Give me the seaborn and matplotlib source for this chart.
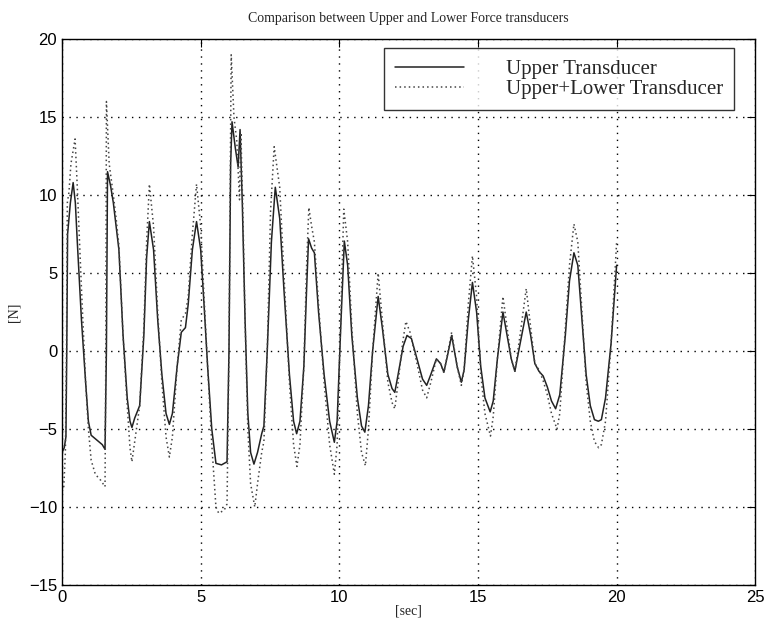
import pandas as pd
import matplotlib
matplotlib.use("Agg")
import matplotlib.pyplot as plt
import seaborn as sns

# Values (time in s, force in N)
upper_t = [0.00, 0.08, 0.14, 0.17, 0.20, 0.30, 0.40, 0.48, 0.55, 0.70, 0.85, 0.95, 1.05, 1.25, 1.45, 1.55,
           1.60, 1.64, 1.75, 1.85, 1.95, 2.05, 2.20, 2.35, 2.45, 2.52, 2.62, 2.80, 2.95, 3.05, 3.15, 3.30,
           3.45, 3.60, 3.75, 3.87, 3.98, 4.15, 4.30, 4.45, 4.55, 4.70, 4.85, 5.00, 5.12, 5.25, 5.40, 5.55,
           5.75, 5.95, 6.02, 6.08, 6.13, 6.25, 6.35, 6.42, 6.50, 6.60, 6.70, 6.80, 6.92, 7.05, 7.20, 7.28,
           7.40, 7.55, 7.69, 7.85, 8.00, 8.20, 8.35, 8.46, 8.58, 8.72, 8.82, 8.89, 9.00, 9.10, 9.25, 9.45,
           9.65, 9.82, 9.92, 10.05, 10.18, 10.30, 10.45, 10.65, 10.80, 10.92, 11.05, 11.20, 11.40, 11.55,
           11.75, 11.90, 12.00, 12.12, 12.30, 12.44, 12.60, 12.80, 13.00, 13.15, 13.30, 13.50, 13.65, 13.77,
           13.90, 14.05, 14.25, 14.40, 14.50, 14.65, 14.80, 14.95, 15.10, 15.25, 15.44, 15.55, 15.70, 15.90,
           16.05, 16.20, 16.33, 16.50, 16.74, 16.90, 17.05, 17.20, 17.35, 17.50, 17.65, 17.80, 17.95, 18.15,
           18.30, 18.46, 18.60, 18.75, 18.90, 19.05, 19.20, 19.34, 19.45, 19.60, 19.80, 20.00]
upper_f = [-6.5, -6.2, -5.5, 0.0, 7.5, 9.5, 10.8, 9.5, 7.0, 2.0, -2.0, -4.5, -5.4, -5.7, -6.0, -6.3,
           0.0, 11.5, 10.6, 9.5, 8.0, 6.5, 1.0, -3.0, -4.5, -4.9, -4.3, -3.5, 1.0, 6.0, 8.3, 6.5,
           2.0, -1.5, -4.0, -4.7, -4.0, -1.0, 1.2, 1.5, 3.0, 6.5, 8.3, 6.5, 3.0, -1.0, -5.0, -7.2,
           -7.3, -7.1, 0.0, 12.0, 14.7, 13.0, 11.8, 14.2, 9.5, 2.0, -4.0, -6.5, -7.25, -6.5, -5.3, -4.8,
           0.0, 7.0, 10.5, 8.5, 4.0, -1.5, -4.5, -5.3, -4.5, -1.0, 4.0, 7.2, 6.6, 6.3, 2.5, -1.5,
           -4.5, -5.85, -4.5, 1.5, 7.05, 5.5, 1.0, -3.0, -4.8, -5.2, -3.5, 0.0, 3.5, 1.5,
           -1.5, -2.4, -2.65, -1.5, 0.3, 1.0, 0.8, -0.5, -1.8, -2.2, -1.5, -0.5, -0.8, -1.35,
           -0.3, 1.0, -1.0, -2.0, -1.2, 2.0, 4.4, 2.5, -1.0, -3.0, -3.9, -3.2, -0.5, 2.5,
           1.0, -0.5, -1.3, 0.3, 2.5, 1.0, -0.8, -1.3, -1.6, -2.3, -3.2, -3.7, -2.8, 1.0,
           4.5, 6.3, 5.5, 2.0, -1.5, -3.5, -4.4, -4.5, -4.4, -3.0, 0.5, 5.5]

both_t = [0.00, 0.06, 0.12, 0.16, 0.19, 0.25, 0.32, 0.47, 0.55, 0.70, 0.85, 0.95, 1.05, 1.20, 1.40, 1.55,
          1.58, 1.60, 1.70, 1.85, 1.95, 2.05, 2.20, 2.35, 2.45, 2.52, 2.62, 2.80, 2.95, 3.05, 3.15, 3.30,
          3.45, 3.60, 3.75, 3.87, 3.98, 4.15, 4.30, 4.45, 4.55, 4.70, 4.85, 5.00, 5.12, 5.25, 5.40, 5.55,
          5.65, 5.85, 5.95, 6.02, 6.10, 6.20, 6.30, 6.40, 6.45, 6.52, 6.60, 6.70, 6.80, 6.95, 7.05, 7.20,
          7.28, 7.40, 7.52, 7.65, 7.85, 8.00, 8.20, 8.35, 8.47, 8.58, 8.72, 8.82, 8.90, 9.00, 9.10, 9.25,
          9.45, 9.65, 9.82, 9.92, 10.05, 10.16, 10.30, 10.45, 10.65, 10.80, 10.94, 11.05, 11.20, 11.40,
          11.55, 11.75, 11.90, 12.00, 12.12, 12.28, 12.40, 12.55, 12.80, 13.00, 13.15, 13.30, 13.50, 13.65,
          13.77, 13.90, 14.05, 14.25, 14.40, 14.50, 14.65, 14.80, 14.95, 15.10, 15.25, 15.45, 15.55, 15.70,
          15.90, 16.05, 16.20, 16.33, 16.50, 16.74, 16.90, 17.05, 17.20, 17.35, 17.50, 17.65, 17.85, 17.95,
          18.15, 18.30, 18.46, 18.60, 18.75, 18.90, 19.05, 19.20, 19.35, 19.45, 19.60, 19.80, 20.00]
both_f = [-9.0, -8.8, -6.5, 0.0, 9.5, 10.2, 12.0, 13.6, 10.5, 4.0, -2.0, -5.0, -7.0, -7.9, -8.3, -8.7,
          0.0, 16.0, 12.0, 10.0, 8.5, 6.8, 1.0, -3.5, -6.2, -7.1, -5.8, -3.5, 1.5, 7.0, 10.7, 8.0,
          2.5, -2.0, -5.5, -6.8, -5.5, -1.0, 2.0, 2.4, 3.5, 7.5, 10.7, 8.0, 3.5, -1.0, -6.0, -10.0,
          -10.4, -10.2, -9.8, 0.0, 19.0, 15.0, 13.5, 9.7, 14.0, 9.0, 2.0, -5.0, -8.5, -10.0, -8.5, -6.5,
          -5.8, 0.0, 9.0, 13.1, 10.5, 5.0, -2.0, -6.0, -7.4, -6.0, -1.0, 5.5, 9.2, 8.0, 7.0, 3.0,
          -2.0, -6.0, -7.9, -6.0, 2.0, 9.1, 7.0, 1.5, -4.0, -6.5, -7.35, -5.0, 0.0, 5.0,
          2.0, -2.0, -3.3, -3.7, -2.0, 0.5, 1.9, 1.2, -0.8, -2.5, -3.0, -2.0, -0.5, -0.8,
          -1.4, -0.2, 1.2, -1.0, -2.2, -1.2, 3.0, 6.1, 3.5, -1.5, -4.0, -5.45, -4.2, -0.5,
          3.5, 1.5, -0.5, -1.3, 0.8, 4.0, 1.5, -0.8, -1.2, -1.9, -2.8, -4.0, -5.0, -4.0,
          1.5, 5.5, 8.15, 7.0, 2.5, -2.0, -4.5, -5.8, -6.2, -6.0, -4.5, 0.5, 7.0]

x_ticks = [0, 5, 10, 15, 20, 25]
y_ticks = [-15, -10, -5, 0, 5, 10, 15, 20]

df = pd.concat([
    pd.DataFrame({"t": upper_t, "F": upper_f, "series": "Upper Transducer"}),
    pd.DataFrame({"t": both_t, "F": both_f, "series": "Upper+Lower Transducer"}),
])

sns.set_style("white")
plt.rcParams["font.family"] = ["Liberation Sans", "DejaVu Sans"]

fig = plt.figure(figsize=(7.66, 6.21), dpi=100)
ax = fig.add_axes([0.081, 0.058, 0.905, 0.879])

sns.lineplot(data=df, x="t", y="F", hue="series", style="series",
             palette=["#222222", "#444444"], dashes=[(None, None), (1, 2)],
             linewidth=1.1, sort=False, estimator=None, ax=ax)

ax.set_xlim(0, 25)
ax.set_ylim(-15, 20)
ax.set_xticks(x_ticks)
ax.set_yticks(y_ticks)
ax.tick_params(direction="in", length=6, top=True, right=True, labelsize=12, colors="black")
ax.grid(True, linestyle=(0, (1, 4)), color="black", linewidth=1.0)
for s in ax.spines.values():
    s.set_color("black")
    s.set_linewidth(1.0)

serif = ["Liberation Serif", "DejaVu Serif"]
ax.set_title("Comparison between Upper and Lower Force transducers", fontsize=10, family=serif, pad=12)
ax.set_xlabel("[sec]", fontsize=10, family=serif, labelpad=0)
ax.set_ylabel("[N]", fontsize=10, family=serif, labelpad=6)

leg = ax.legend(loc="upper right", bbox_to_anchor=(0.97, 0.983), borderaxespad=0, frameon=True,
                fancybox=False, edgecolor="black", prop={"family": serif, "size": 15}, handlelength=3.3,
                handletextpad=2.0, borderpad=0.55, labelspacing=0.0, title=None)
leg.get_frame().set_linewidth(1.0)

plt.savefig("out.png", dpi=100)
